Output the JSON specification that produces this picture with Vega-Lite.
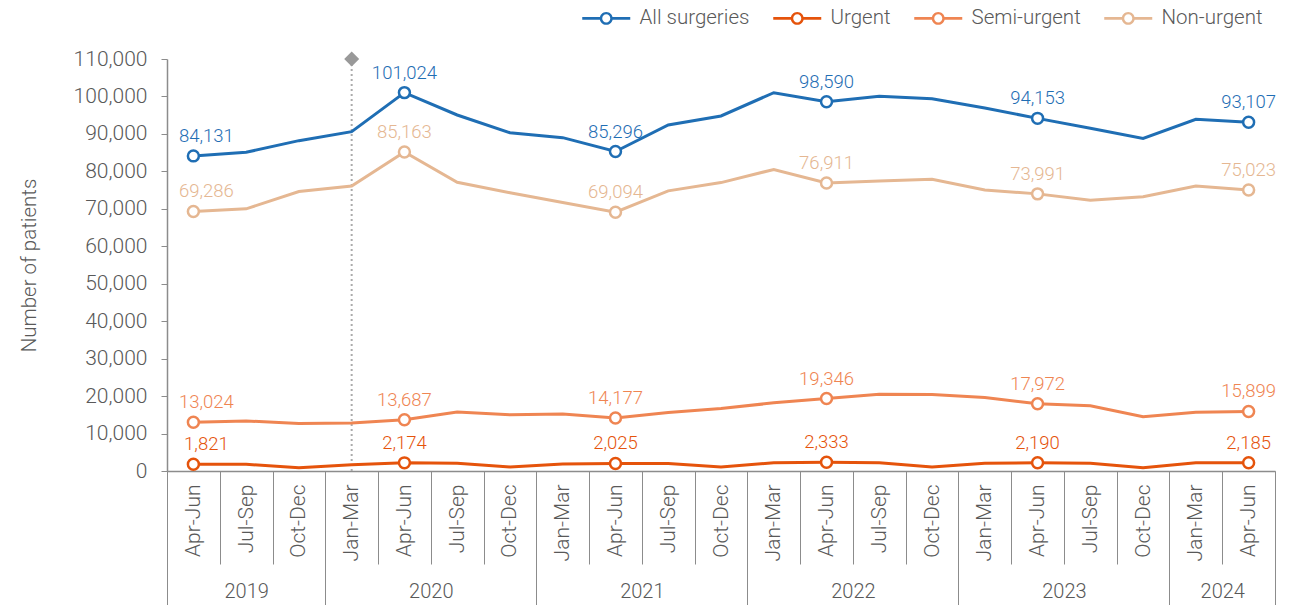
{
  "$schema": "https://vega.github.io/schema/vega-lite/v6.json",
  "width": 1108,
  "height": 412,
  "autosize": {"type": "none"},
  "padding": {"left": 167, "top": 59, "right": 21, "bottom": 134},
  "config": {
    "view": {"stroke": null},
    "font": "Roboto",
    "axis": {
      "labelFont": "Roboto",
      "labelFontWeight": 300,
      "labelFontSize": 21,
      "labelColor": "#595959",
      "titleFont": "Roboto",
      "titleFontWeight": 300,
      "titleFontSize": 20.5,
      "titleColor": "#595959",
      "domainColor": "#8c8c8c",
      "tickColor": "#8c8c8c",
      "grid": false
    },
    "legend": {
      "labelFont": "Roboto",
      "labelFontWeight": 300,
      "labelFontSize": 20.5,
      "labelColor": "#595959"
    }
  },
  "datasets": {
    "main": [
      {"q": "Apr-Jun 2019", "All surgeries": 84131, "Urgent": 1821, "Semi-urgent": 13024, "Non-urgent": 69286},
      {"q": "Jul-Sep 2019", "All surgeries": 85100, "Urgent": 1800, "Semi-urgent": 13350, "Non-urgent": 70000},
      {"q": "Oct-Dec 2019", "All surgeries": 88200, "Urgent": 900, "Semi-urgent": 12700, "Non-urgent": 74600},
      {"q": "Jan-Mar 2020", "All surgeries": 90600, "Urgent": 1700, "Semi-urgent": 12800, "Non-urgent": 76100},
      {"q": "Apr-Jun 2020", "All surgeries": 101024, "Urgent": 2174, "Semi-urgent": 13687, "Non-urgent": 85163},
      {"q": "Jul-Sep 2020", "All surgeries": 95050, "Urgent": 2100, "Semi-urgent": 15750, "Non-urgent": 77100},
      {"q": "Oct-Dec 2020", "All surgeries": 90300, "Urgent": 1100, "Semi-urgent": 15000, "Non-urgent": 74300},
      {"q": "Jan-Mar 2021", "All surgeries": 89000, "Urgent": 1900, "Semi-urgent": 15200, "Non-urgent": 71700},
      {"q": "Apr-Jun 2021", "All surgeries": 85296, "Urgent": 2025, "Semi-urgent": 14177, "Non-urgent": 69094},
      {"q": "Jul-Sep 2021", "All surgeries": 92400, "Urgent": 2000, "Semi-urgent": 15600, "Non-urgent": 74800},
      {"q": "Oct-Dec 2021", "All surgeries": 94800, "Urgent": 1100, "Semi-urgent": 16700, "Non-urgent": 77000},
      {"q": "Jan-Mar 2022", "All surgeries": 101000, "Urgent": 2200, "Semi-urgent": 18200, "Non-urgent": 80500},
      {"q": "Apr-Jun 2022", "All surgeries": 98590, "Urgent": 2333, "Semi-urgent": 19346, "Non-urgent": 76911},
      {"q": "Jul-Sep 2022", "All surgeries": 100050, "Urgent": 2200, "Semi-urgent": 20500, "Non-urgent": 77400},
      {"q": "Oct-Dec 2022", "All surgeries": 99400, "Urgent": 1100, "Semi-urgent": 20400, "Non-urgent": 77900},
      {"q": "Jan-Mar 2023", "All surgeries": 96900, "Urgent": 2100, "Semi-urgent": 19600, "Non-urgent": 75000},
      {"q": "Apr-Jun 2023", "All surgeries": 94153, "Urgent": 2190, "Semi-urgent": 17972, "Non-urgent": 73991},
      {"q": "Jul-Sep 2023", "All surgeries": 91500, "Urgent": 2100, "Semi-urgent": 17400, "Non-urgent": 72300},
      {"q": "Oct-Dec 2023", "All surgeries": 88800, "Urgent": 900, "Semi-urgent": 14500, "Non-urgent": 73200},
      {"q": "Jan-Mar 2024", "All surgeries": 93900, "Urgent": 2200, "Semi-urgent": 15700, "Non-urgent": 76100},
      {"q": "Apr-Jun 2024", "All surgeries": 93107, "Urgent": 2185, "Semi-urgent": 15899, "Non-urgent": 75023}
    ],
    "years": [
      {"year": "2019", "q0": 0},
      {"year": "2020", "q0": 3},
      {"year": "2021", "q0": 7},
      {"year": "2022", "q0": 11},
      {"year": "2023", "q0": 15},
      {"year": "2024", "q0": 19}
    ],
    "marker": [
      {"q": "Jan-Mar 2020", "v": 110000}
    ]
  },
  "layer": [
    {
      "encoding": {
        "x": {
          "field": "q",
          "type": "nominal",
          "scale": {
            "type": "band",
            "paddingInner": 0,
            "paddingOuter": 0,
            "domain": ["Apr-Jun 2019", "Jul-Sep 2019", "Oct-Dec 2019", "Jan-Mar 2020", "Apr-Jun 2020", "Jul-Sep 2020", "Oct-Dec 2020", "Jan-Mar 2021", "Apr-Jun 2021", "Jul-Sep 2021", "Oct-Dec 2021", "Jan-Mar 2022", "Apr-Jun 2022", "Jul-Sep 2022", "Oct-Dec 2022", "Jan-Mar 2023", "Apr-Jun 2023", "Jul-Sep 2023", "Oct-Dec 2023", "Jan-Mar 2024", "Apr-Jun 2024"]
          },
          "axis": {
            "title": null,
            "orient": "bottom",
            "labelAngle": -90,
            "labelAlign": "right",
            "labelBaseline": "middle",
            "labelExpr": "isValid(datum.value) && datum.value != 'undefined' ? substring(datum.value, 0, 7) : ''",
            "tickBand": "extent",
            "tickSize": 93,
            "labelPadding": -80,
            "domainWidth": 1.5
          }
        },
        "y": {
          "field": "v",
          "type": "quantitative",
          "scale": {"domain": [0, 110000], "nice": false, "zero": true},
          "axis": {
            "title": "Number of patients",
            "values": [0, 10000, 20000, 30000, 40000, 50000, 60000, 70000, 80000, 90000, 100000, 110000],
            "format": ",.0f",
            "tickSize": 6,
            "labelPadding": 14,
            "titlePadding": 34,
            "domainWidth": 1.5
          }
        }
      },
      "layer": [
        {
          "data": {"name": "marker"},
          "mark": {"type": "rule", "color": "#ababab", "strokeWidth": 2, "strokeDash": [2, 3]},
          "encoding": {
            "y2": {"datum": 0}
          }
        },
        {
          "data": {"name": "marker"},
          "mark": {"type": "point", "shape": "diamond", "filled": true, "color": "#999999", "opacity": 1, "size": 225},
          "encoding": {}
        },
        {
          "data": {"name": "main"},
          "transform": [{"fold": ["All surgeries", "Urgent", "Semi-urgent", "Non-urgent"], "as": ["series", "v"]}],
          "mark": {"type": "line", "strokeWidth": 3},
          "encoding": {
            "color": {
              "field": "series",
              "type": "nominal",
              "scale": {
                "domain": ["All surgeries", "Urgent", "Semi-urgent", "Non-urgent"],
                "range": ["#1f6eb4", "#e5530b", "#ef8552", "#e5b792"]
              },
              "legend": {
                "orient": "none",
                "legendX": 429,
                "legendY": -51,
                "direction": "horizontal",
                "title": null,
                "symbolType": "M1.08,0A1.08,1.08,0,1,1,-1.08,0A1.08,1.08,0,1,1,1.08,0ZM0.67,0A0.67,0.67,0,1,0,-0.67,0A0.67,0.67,0,1,0,0.67,0ZM-4,-0.21H-1.05V0.21H-4ZM1.05,-0.21H4V0.21H1.05Z",
                "symbolSize": 144,
                "symbolStrokeWidth": 0,
                "labelOffset": 23,
                "columnPadding": 23
              }
            }
          }
        },
        {
          "data": {"name": "main"},
          "transform": [
            {"fold": ["All surgeries", "Urgent", "Semi-urgent", "Non-urgent"], "as": ["series", "v"]},
            {"filter": "indexof(datum.q, 'Apr-Jun') == 0"}
          ],
          "mark": {"type": "point", "filled": false, "fill": "white", "fillOpacity": 1, "opacity": 1, "strokeWidth": 2.5, "size": 120},
          "encoding": {
            "color": {"field": "series", "type": "nominal", "legend": null}
          }
        },
        {
          "data": {"name": "main"},
          "transform": [
            {"fold": ["All surgeries", "Urgent", "Semi-urgent", "Non-urgent"], "as": ["series", "v"]},
            {"filter": "indexof(datum.q, 'Apr-Jun') == 0 && datum.q != 'Apr-Jun 2019'"}
          ],
          "mark": {"type": "text", "fontSize": 18.5, "fontWeight": 300, "baseline": "alphabetic", "dy": -14},
          "encoding": {
            "text": {"field": "v", "type": "quantitative", "format": ","},
            "color": {"field": "series", "type": "nominal", "legend": null}
          }
        },
        {
          "data": {"name": "main"},
          "transform": [
            {"fold": ["All surgeries", "Urgent", "Semi-urgent", "Non-urgent"], "as": ["series", "v"]},
            {"filter": "datum.q == 'Apr-Jun 2019'"}
          ],
          "mark": {"type": "text", "fontSize": 18.5, "fontWeight": 300, "baseline": "alphabetic", "dy": -14, "dx": 13},
          "encoding": {
            "text": {"field": "v", "type": "quantitative", "format": ","},
            "color": {"field": "series", "type": "nominal", "legend": null}
          }
        }
      ]
    },
    {
      "data": {"name": "years"},
      "mark": {"type": "point", "opacity": 0},
      "encoding": {
        "x": {
          "field": "q0",
          "type": "quantitative",
          "scale": {"domain": [0, 21], "nice": false, "zero": false},
          "axis": {
            "title": null,
            "orient": "bottom",
            "values": [0, 3, 7, 11, 15, 19, 21],
            "labels": false,
            "domain": false,
            "tickSize": 134,
            "tickWidth": 1
          }
        }
      }
    },
    {
      "data": {"name": "years"},
      "mark": {"type": "point", "opacity": 0},
      "encoding": {
        "x": {
          "field": "q0",
          "type": "quantitative",
          "scale": {"domain": [0, 21], "nice": false, "zero": false},
          "axis": {
            "title": null,
            "orient": "bottom",
            "values": [1.5, 5, 9, 13, 17, 20],
            "labelExpr": "datum.value < 3 ? '2019' : datum.value < 7 ? '2020' : datum.value < 11 ? '2021' : datum.value < 15 ? '2022' : datum.value < 19 ? '2023' : '2024'",
            "domain": false,
            "ticks": false,
            "labelFontSize": 20,
            "labelBaseline": "middle",
            "labelPadding": 120
          }
        }
      }
    }
  ],
  "resolve": {"scale": {"x": "independent"}}
}
